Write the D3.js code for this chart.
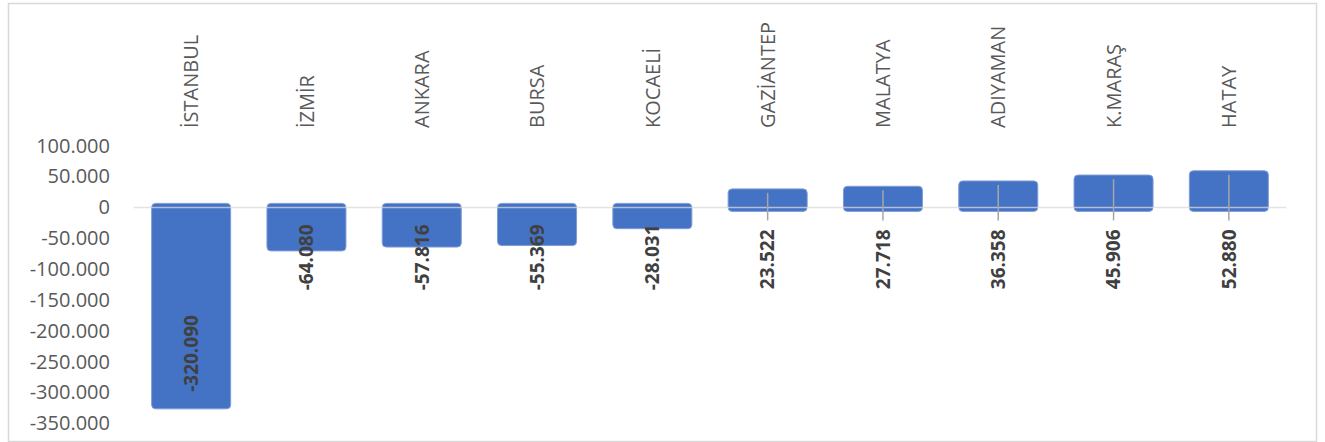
<!DOCTYPE html>
<html>
<head>
<meta charset="utf-8">
<script src="https://cdn.jsdelivr.net/npm/d3@7"></script>
<style>
  body { margin: 0; background: #fff; }
</style>
</head>
<body>
<div id="viz"></div>
<script>
// net migration by province
var cities = ["İSTANBUL", "İZMİR", "ANKARA", "BURSA", "KOCAELİ", "GAZİANTEP", "MALATYA", "ADIYAMAN", "K.MARAŞ", "HATAY"];
var values = [-320090, -64080, -57816, -55369, -28031, 23522, 27718, 36358, 45906, 52880];
var yTicks = [100000, 50000, 0, -50000, -100000, -150000, -200000, -250000, -300000, -350000];

var W = 1325, H = 442;

var tr = d3.formatLocale({decimal: ",", thousands: ".", grouping: [3], currency: ["", "₺"], minus: "-"});
var fmt = tr.format(",");

var svg = d3.select("#viz").append("svg").attr("width", W).attr("height", H);

// chart border
svg.append("rect")
    .attr("x", 8.5).attr("y", 3.5)
    .attr("width", 1308).attr("height", 438)
    .attr("fill", "none")
    .attr("stroke", "#d9d9d9")
    .attr("stroke-width", 1.5);

var x = d3.scaleBand().domain(cities).range([133.5, 1286.5]).paddingInner(0.384).paddingOuter(0.192);
var y = d3.scaleLinear().domain([-350000, 100000]).range([423.3, 145.7]);
var y0 = y(0);
var pad = 4;

// y axis labels
var yAxis = d3.axisLeft(y).tickValues(yTicks).tickFormat(fmt).tickSize(0).tickPadding(0);
var gy = svg.append("g").attr("transform", "translate(110,0)").call(yAxis);
gy.select(".domain").remove();
gy.selectAll("text")
    .style("font-family", "'Open Sans'")
    .style("font-size", "20px")
    .style("fill", "#595959");

// bars
svg.selectAll("rect.bar")
    .data(values)
    .enter().append("rect")
    .attr("class", "bar")
    .attr("x", function(d, i){ return x(cities[i]) - pad; })
    .attr("width", x.bandwidth() + 2 * pad)
    .attr("y", function(d){ return Math.min(y(d), y0) - pad; })
    .attr("height", function(d){ return Math.abs(y(d) - y0) + 2 * pad; })
    .attr("rx", 4)
    .attr("fill", "#4472c4")
    .attr("stroke", "#7f9dd6")
    .attr("stroke-width", 1);

// zero line over the bars
svg.append("line")
    .attr("x1", x.range()[0]).attr("x2", x.range()[1])
    .attr("y1", y0).attr("y2", y0)
    .attr("stroke", "#d9d9d9")
    .attr("stroke-opacity", 0.75)
    .attr("stroke-width", 1.5);

// category labels along the top
svg.selectAll("text.cat")
    .data(cities)
    .enter().append("text")
    .attr("class", "cat")
    .attr("transform", function(d){ return "translate(" + (x(d) + x.bandwidth() / 2) + ",128) rotate(-90)"; })
    .attr("dy", "0.36em")
    .attr("text-anchor", "start")
    .style("font-family", "'Open Sans'")
    .style("font-size", "20px")
    .style("fill", "#595959")
    .text(function(d){ return d; });

// leader lines for positive values
svg.selectAll("line.lead")
    .data(values.filter(function(d){ return d > 0; }))
    .enter().append("line")
    .attr("class", "lead")
    .attr("x1", function(d){ var i = values.indexOf(d); return x(cities[i]) + x.bandwidth() / 2; })
    .attr("x2", function(d){ var i = values.indexOf(d); return x(cities[i]) + x.bandwidth() / 2; })
    .attr("y1", y0 + 13)
    .attr("y2", function(d){ return y(d); })
    .attr("stroke", "#a6a6a6")
    .attr("stroke-width", 1.5);

// data labels
svg.selectAll("text.val")
    .data(values)
    .enter().append("text")
    .attr("class", "val")
    .attr("transform", function(d, i){
        var cx = x(cities[i]) + x.bandwidth() / 2, ly;
        if (Math.abs(y(d) - y0) > 100) ly = y(d) - 13;
        else if (d < 0) ly = y0 + 17;
        else ly = y0 + 22;
        return "translate(" + cx + "," + ly + ") rotate(-90)";
    })
    .attr("text-anchor", function(d){ return Math.abs(y(d) - y0) > 100 ? "start" : "end"; })
    .attr("dy", "0.36em")
    .style("font-family", "'Open Sans'")
    .style("font-weight", "bold")
    .style("font-size", "19px")
    .style("fill", "#404040")
    .text(function(d){ return fmt(d); });
</script>
</body>
</html>
